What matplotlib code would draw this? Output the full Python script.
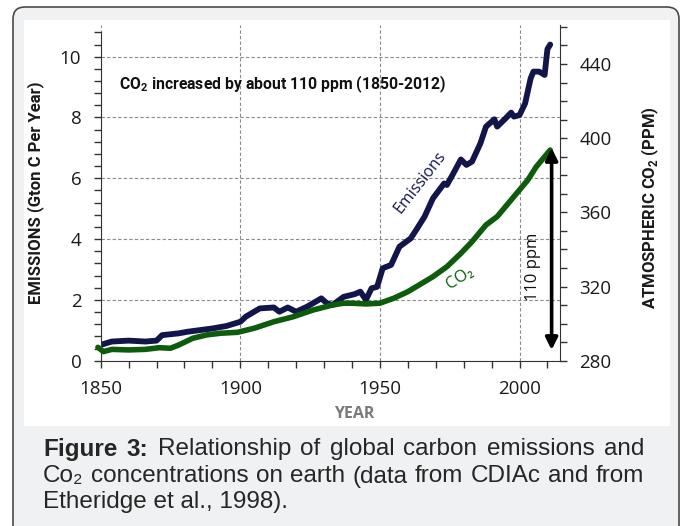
import numpy as np
import matplotlib
matplotlib.use("Agg")
import matplotlib.pyplot as plt
from matplotlib.patches import FancyBboxPatch, Rectangle
from matplotlib.ticker import MultipleLocator

# emissions (Gton C per year)
em_years = [1850, 1854, 1860, 1866, 1870, 1872, 1878, 1881, 1890, 1895, 1900, 1902, 1907,
            1912, 1914, 1917, 1920, 1924, 1929, 1931, 1933, 1937, 1941, 1943, 1945, 1947,
            1949, 1951, 1954, 1957, 1961, 1963, 1966, 1969, 1973, 1974, 1976, 1979, 1981,
            1983, 1986, 1988, 1991, 1992, 1995, 1997, 1998, 2000, 2002, 2004, 2005, 2007,
            2009, 2010, 2011]
em_vals = [0.52, 0.63, 0.66, 0.63, 0.66, 0.84, 0.90, 0.95, 1.06, 1.14, 1.28, 1.45, 1.72,
           1.75, 1.61, 1.75, 1.61, 1.78, 2.05, 1.89, 1.83, 2.10, 2.19, 2.27, 2.00, 2.38,
           2.43, 3.04, 3.15, 3.75, 4.02, 4.30, 4.74, 5.34, 5.83, 5.78, 6.11, 6.62, 6.44,
           6.55, 7.15, 7.70, 7.94, 7.70, 7.97, 8.16, 8.03, 8.08, 8.46, 9.29, 9.51, 9.51,
           9.40, 10.25, 10.40]

# atmospheric CO2 (ppm)
co2_years = [1849, 1851, 1854, 1860, 1866, 1871, 1875, 1878, 1883, 1888, 1893, 1899, 1905,
             1912, 1919, 1926, 1933, 1937, 1940, 1945, 1950, 1955, 1960, 1964, 1969, 1974,
             1979, 1983, 1988, 1992, 1995, 1999, 2003, 2006, 2011]
co2_vals = [287.2, 284.9, 286.1, 285.8, 286.1, 287.0, 286.7, 288.5, 292.1, 293.9, 294.8,
            295.3, 297.5, 301.0, 303.7, 307.3, 310.0, 311.0, 311.0, 310.6, 311.0, 313.7,
            317.2, 320.8, 325.3, 330.7, 337.9, 344.2, 353.2, 357.7, 363.1, 370.3, 377.5,
            384.6, 393.6]

x_ticks = [1850, 1900, 1950, 2000]
left_ticks = [0, 2, 4, 6, 8, 10]
right_ticks = [280, 320, 360, 400, 440]

navy = "#12154a"
green = "#0c5c0c"
tickfont = "Open Sans"
narrow = ["Liberation Sans Narrow", "Roboto", "DejaVu Sans"]

plt.rcParams["mathtext.fontset"] = "custom"
plt.rcParams["mathtext.rm"] = "Open Sans"
plt.rcParams["mathtext.bf"] = "Roboto:bold"

fig = plt.figure(figsize=(6.85, 5.26), dpi=100)
fig.patch.set_facecolor("white")

# frame: grey rounded box, white panel inside
frame = FancyBboxPatch((0.13, -0.3), 6.66, 5.49, boxstyle="round,pad=0,rounding_size=0.12",
                       transform=fig.dpi_scale_trans, facecolor="#f0f1f2",
                       edgecolor="#4a4a4a", lw=1.2, zorder=-10)
fig.patches.append(frame)
panel = Rectangle((0.24, 1.00), 6.46, 4.06, transform=fig.dpi_scale_trans,
                  facecolor="white", edgecolor="none", zorder=-9)
fig.patches.append(panel)

ax = fig.add_axes([0.147, 0.3143, 0.6705, 0.638])
ax.patch.set_alpha(0)
ax2 = ax.twinx()
ax2.patch.set_alpha(0)

ax.plot(em_years, em_vals, color=navy, lw=4.2, solid_capstyle="round", solid_joinstyle="round")
ax2.plot(co2_years, co2_vals, color=green, lw=4.0, solid_capstyle="round",
         solid_joinstyle="round", clip_on=False)

ax.set_xlim(1850, 2014.5)
ax.set_ylim(0, 11.04)
ax2.set_ylim(280, 461)

ax.set_xticks(x_ticks)
ax.set_yticks(left_ticks)
ax2.set_yticks(right_ticks)
ax.xaxis.set_minor_locator(MultipleLocator(10))
ax.yaxis.set_minor_locator(MultipleLocator(0.4))
ax2.yaxis.set_minor_locator(MultipleLocator(10))

for a in (ax, ax2):
    a.spines["top"].set_visible(False)
    a.tick_params(which="both", direction="out", length=5, width=1, color="#333333",
                  labelsize=13.5, pad=9, labelcolor="#1a1a1a")
    for lab in a.get_xticklabels() + a.get_yticklabels():
        lab.set_family(tickfont)
ax.spines["right"].set_visible(False)
ax2.spines["left"].set_visible(False)
ax2.spines["bottom"].set_visible(False)
ax.spines["left"].set_bounds(0, 10.8)
for s in ("left", "bottom"):
    ax.spines[s].set_color("#333333")
ax2.spines["right"].set_color("#333333")

ax.grid(True, which="major", color="#8a8a8a", lw=0.8, ls=(0, (3, 2)))

# texts inside the plot
ax.text(1856.6, 9.1, r"CO$_\mathbf{2}$ increased by about 110 ppm (1850-2012)",
        family=narrow, weight="bold", fontsize=11.3, color="#111111", va="center", ha="left")
ax.text(1964.4, 5.88, "Emissions", color=navy, fontsize=11.5, family=tickfont,
        rotation=52, ha="center", va="center")
ax.text(1978.7, 2.72, "CO\u2082", color=green, fontsize=12, family=[tickfont, "DejaVu Sans"],
        rotation=33, ha="center", va="center")
ax2.text(2005, 330.5, "110 ppm", fontsize=12, family=tickfont, rotation=90,
         ha="center", va="center", color="#111111")
ax2.annotate("", xy=(2011.5, 394.7), xytext=(2011.5, 285.8),
             arrowprops=dict(arrowstyle="<|-|>", color="black", lw=2.6, mutation_scale=18,
                             shrinkA=0, shrinkB=0))

# axis titles
fig.text(0.36 / 6.85, (5.26 - 1.93) / 5.26, "EMISSIONS (Gton C Per Year)", rotation=90,
         family=narrow, weight="bold", fontsize=12, ha="center", va="center", color="#1a1a1a")
fig.text(6.50 / 6.85, (5.26 - 2.075) / 5.26, r"ATMOSPHERIC CO$_\mathbf{2}$ (PPM)", rotation=90,
         family=narrow, weight="bold", fontsize=12, ha="center", va="center", color="#1a1a1a")
fig.text(3.54 / 6.85, (5.26 - 4.14) / 5.26, "YEAR", family=tickfont, weight="bold",
         fontsize=11.5, color="#7a7a7a", ha="center", va="center")

# caption, justified like the page
cap_font = ["Liberation Sans", "DejaVu Sans"]
cap_col = "#262626"
cap_size = 17.5
cap_lines = [
    [("Figure", "bold"), ("3:", "bold"), ("Relationship", "normal"), ("of", "normal"),
     ("global", "normal"), ("carbon", "normal"), ("emissions", "normal"), ("and", "normal")],
    ["Co\u2082", "concentrations", "on", "earth", "(data", "from", "CDIAc", "and", "from"],
]
cap_lines[1] = [(w, "normal") for w in cap_lines[1]]
x0, x1 = 0.43, 6.44
ys = [5.26 - 4.49, 5.26 - 4.765]
renderer = fig.canvas.get_renderer()
for words, y in zip(cap_lines, ys):
    texts = [fig.text(0, y, w, transform=fig.dpi_scale_trans, family=cap_font, weight=wt,
                      fontsize=cap_size, color=cap_col, va="center", ha="left")
             for w, wt in words]
    widths = [t.get_window_extent(renderer).width / fig.dpi for t in texts]
    gap = (x1 - x0 - sum(widths)) / (len(texts) - 1)
    x = x0
    for t, w in zip(texts, widths):
        t.set_x(x)
        x += w + gap
fig.text(x0, 5.26 - 5.02, "Etheridge et al., 1998).", transform=fig.dpi_scale_trans,
         family=cap_font, fontsize=cap_size, color=cap_col, va="center", ha="left")

fig.savefig("out.png", dpi=100)
